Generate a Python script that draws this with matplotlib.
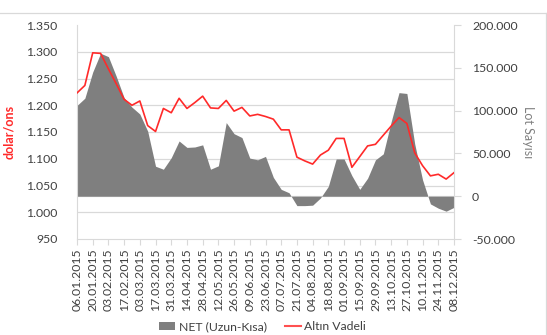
import matplotlib
matplotlib.use("Agg")
import matplotlib.pyplot as plt
import matplotlib.ticker as mticker
from matplotlib.lines import Line2D
from matplotlib.patches import Patch
import numpy as np
import pandas as pd

plt.rcParams['font.family'] = ['Lato', 'DejaVu Sans']

dates = [d.strftime('%d.%m.%Y') for d in pd.date_range('2015-01-06', periods=49, freq='7D')]

gold = [1223, 1237, 1298, 1297, 1268, 1240, 1211, 1200, 1208, 1162,
        1151, 1194, 1186, 1213, 1194, 1205, 1217, 1195, 1194, 1209,
        1189, 1196, 1180, 1183, 1179, 1174, 1154, 1154, 1103, 1096,
        1090, 1107, 1116, 1138, 1138, 1084, 1104, 1124, 1127, 1144,
        1161, 1177, 1166, 1111, 1087, 1068, 1071, 1062, 1074]

net = [106000, 114500, 145000, 167000, 163000, 140000, 115000, 104000, 96000, 76000,
       35000, 31500, 45000, 64500, 57000, 57500, 60000, 31500, 35500, 86000,
       73000, 68500, 44500, 42500, 46500, 22000, 8000, 4000, -11000, -11000,
       -10500, -2000, 11500, 43500, 43500, 24000, 8000, 21000, 42500, 49500,
       87000, 121000, 120000, 61000, 19000, -9000, -14000, -17500, -13000]

left_ticks = [950, 1000, 1050, 1100, 1150, 1200, 1250, 1300, 1350]
right_ticks = [-50000, 0, 50000, 100000, 150000, 200000]

W, H = 547, 335
fig = plt.figure(figsize=(W / 100, H / 100), dpi=100)
L, R, T, B = 77, 454, 25, 239
ax2 = fig.add_axes([L / W, 1 - B / H, (R - L) / W, (B - T) / H])
ax = ax2.twinx()
# swap roles: ax (line) on left axis, ax2 (area) on right axis
ax.yaxis.tick_left()
ax.yaxis.set_label_position('left')
ax2.yaxis.tick_right()
ax2.yaxis.set_label_position('right')

x = np.arange(len(dates))
gridc = '#d9d9d9'
txtc = '#404040'

# area (right axis)
ax2.fill_between(x, 0, net, color='#7f7f7f', linewidth=0, zorder=2)
ax2.axhline(0, color=gridc, lw=0.9, zorder=1)
ax2.set_ylim(-50000, 200000)
ax2.set_yticks(right_ticks)
ax2.yaxis.set_major_formatter(mticker.FuncFormatter(lambda v, p: f"{int(v):,}".replace(',', '.')))
ax2.set_yticks(np.linspace(-50000, 200000, 9), minor=True)
ax2.grid(True, which='minor', axis='y', color=gridc, lw=0.9, zorder=0)
ax2.grid(False, which='major')
ax2.tick_params(axis='y', which='minor', length=0)
ax2.tick_params(axis='y', which='major', length=5, color=gridc, colors=txtc, labelsize=8.8, pad=8,
                right=True, left=False, labelright=True, labelleft=False)
ax2.tick_params(axis='y', which='major', color=gridc)
ax2.set_ylabel('Lot Sayısı', color='#808080', fontsize=9, rotation=270, labelpad=12)

# x axis
ax2.set_xlim(0, len(dates) - 1)
ax2.set_xticks(x[::2])
ax2.set_xticklabels(dates[::2], rotation=90, fontsize=8.8, color=txtc)
ax2.tick_params(axis='x', length=4, color=gridc, pad=3)

for s in ['top']:
    ax2.spines[s].set_visible(False)
for s in ['left', 'right', 'bottom']:
    ax2.spines[s].set_color(gridc)

# line (left axis)
ax.plot(x, gold, color='#ff2a2a', lw=1.2, zorder=3)
ax.set_ylim(950, 1350)
ax.set_yticks(left_ticks)
ax.yaxis.set_major_formatter(mticker.FuncFormatter(lambda v, p: f"{int(v):,}".replace(',', '.')))
ax.tick_params(axis='y', length=0, colors=txtc, labelsize=8.8, pad=14, left=True, right=False,
               labelleft=True, labelright=False)
ax.set_ylabel('dolar/ons', color='#ff2a2a', fontsize=9, fontweight='bold', labelpad=8)
for s in ax.spines.values():
    s.set_visible(False)
ax.patch.set_visible(False)

# legend
handles = [Patch(facecolor='#7f7f7f', edgecolor='none', label='NET (Uzun-Kısa)'),
           Line2D([0], [0], color='#ff5050', lw=1.5, label='Altın Vadeli')]
fig.legend(handles=handles, loc='center', bbox_to_anchor=(0.48, 1 - 327 / H), ncol=2,
           frameon=False, fontsize=8.8, handlelength=1.3, handleheight=0.6,
           columnspacing=1.5, handletextpad=0.3, labelcolor=txtc)

# outer chart border
fig.add_artist(Line2D([0, 546 / W], [1 - 13 / H, 1 - 13 / H], color=gridc, lw=0.9))
fig.add_artist(Line2D([546 / W, 546 / W], [1 - 13 / H, 0], color=gridc, lw=0.9))

fig.savefig('out.png', dpi=100)
